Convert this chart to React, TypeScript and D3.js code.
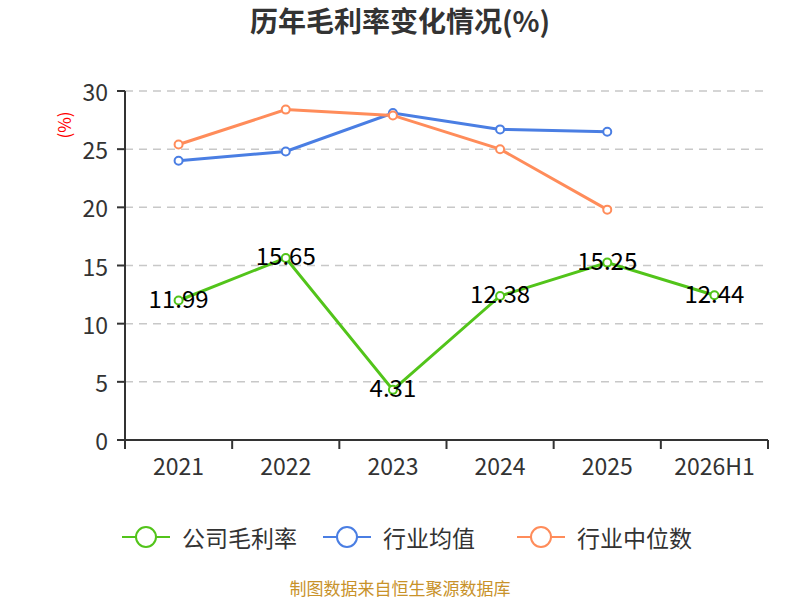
import * as d3 from "d3";

const WIDTH = 800;
const HEIGHT = 600;
const MARGIN = { top: 91, right: 32, bottom: 160, left: 125 };
const INNER_W = WIDTH - MARGIN.left - MARGIN.right;
const INNER_H = HEIGHT - MARGIN.top - MARGIN.bottom;
const FONT = "'Noto Sans CJK SC', 'Noto Sans', sans-serif";

const categories = ["2021", "2022", "2023", "2024", "2025", "2026H1"];
const companyMargin = [11.99, 15.65, 4.31, 12.38, 15.25, 12.44];
const industryAvg = [24.0, 24.8, 28.1, 26.7, 26.5];
const industryMedian = [25.4, 28.4, 27.9, 25.0, 19.8];
const yTicks = [0, 5, 10, 15, 20, 25, 30];

const series = [
  { name: "公司毛利率", color: "#52c41a", values: companyMargin },
  { name: "行业均值", color: "#4a7ee3", values: industryAvg },
  { name: "行业中位数", color: "#ff8c5a", values: industryMedian },
];

export default function App() {
  const x = d3.scaleBand<string>().domain(categories).range([0, INNER_W]);
  const y = d3.scaleLinear().domain([0, 30]).range([INNER_H, 0]);
  const cx = (i: number) => (x(categories[i]) ?? 0) + x.bandwidth() / 2;

  const line = d3
    .line<number>()
    .x((_, i) => cx(i))
    .y((v) => y(v));

  const boundaries = categories.map((c) => x(c) ?? 0).concat([INNER_W]);
  const legendX = [122, 323, 517];

  return (
    <svg
      width={WIDTH}
      height={HEIGHT}
      style={{ position: "absolute", left: 0, top: 0, fontFamily: FONT }}
    >
      <rect width={WIDTH} height={HEIGHT} fill="#fff" />
      <text x={400} y={32} textAnchor="middle" fontSize={28} fontWeight="bold" fill="#333">
        历年毛利率变化情况(%)
      </text>
      <text
        transform="translate(63,125) rotate(-90)"
        textAnchor="middle"
        dominantBaseline="central"
        fontSize={17}
        fill="#ff0000"
      >
        (%)
      </text>

      <g transform={`translate(${MARGIN.left},${MARGIN.top})`}>
        {yTicks.map((t) => (
          <g key={t}>
            {t > 0 && (
              <line
                x1={0}
                x2={INNER_W}
                y1={y(t)}
                y2={y(t)}
                stroke="#c8c8c8"
                strokeWidth={1.5}
                strokeDasharray="8,6"
              />
            )}
            <line x1={-8} x2={0} y1={y(t)} y2={y(t)} stroke="#333" strokeWidth={2} />
            <text
              x={-17}
              y={y(t)}
              textAnchor="end"
              dominantBaseline="central"
              fontSize={23}
              fill="#333"
            >
              {t}
            </text>
          </g>
        ))}
        <line x1={0} x2={0} y1={0} y2={INNER_H} stroke="#333" strokeWidth={2} />
        <line x1={0} x2={INNER_W} y1={INNER_H} y2={INNER_H} stroke="#333" strokeWidth={2} />
        {boundaries.map((b, i) => (
          <line key={i} x1={b} x2={b} y1={INNER_H} y2={INNER_H + 9} stroke="#333" strokeWidth={2} />
        ))}
        {categories.map((c, i) => (
          <text
            key={c}
            x={cx(i)}
            y={INNER_H + 25}
            textAnchor="middle"
            dominantBaseline="central"
            fontSize={23}
            fill="#333"
          >
            {c}
          </text>
        ))}

        {series.map((s) => (
          <g key={s.name}>
            <path d={line(s.values) ?? ""} fill="none" stroke={s.color} strokeWidth={3} />
            {s.values.map((v, i) => (
              <circle
                key={i}
                cx={cx(i)}
                cy={y(v)}
                r={4}
                fill="#fff"
                stroke={s.color}
                strokeWidth={2}
              />
            ))}
          </g>
        ))}
        {companyMargin.map((v, i) => (
          <text
            key={i}
            x={cx(i)}
            y={y(v) - 3}
            textAnchor="middle"
            dominantBaseline="central"
            fontSize={24}
            fill="#000"
          >
            {v.toFixed(2)}
          </text>
        ))}
      </g>

      {series.map((s, i) => (
        <g key={s.name} transform={`translate(${legendX[i]},537)`}>
          <line x1={0} x2={48} y1={0} y2={0} stroke={s.color} strokeWidth={2} />
          <circle cx={24} cy={0} r={10} fill="#fff" stroke={s.color} strokeWidth={2} />
          <text x={60} y={0} dominantBaseline="central" fontSize={23} fill="#333">
            {s.name}
          </text>
        </g>
      ))}

      <text x={400} y={587} textAnchor="middle" dominantBaseline="central" fontSize={17} fill="#c8922a">
        制图数据来自恒生聚源数据库
      </text>
    </svg>
  );
}
